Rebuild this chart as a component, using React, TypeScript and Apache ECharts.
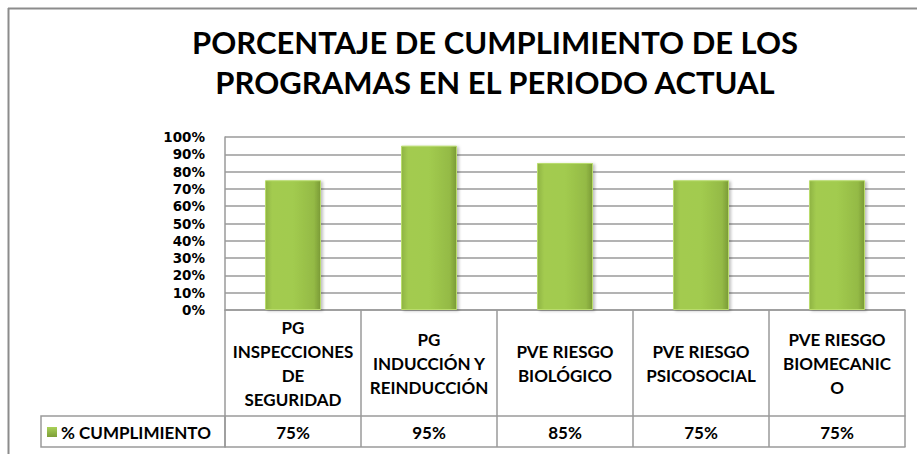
import React, { useEffect, useRef } from "react";
import * as echarts from "echarts";

const TITLE = "PORCENTAJE DE CUMPLIMIENTO DE LOS\nPROGRAMAS EN EL PERIODO ACTUAL";
const SERIES_NAME = "% CUMPLIMIENTO";
const CATEGORIES = [
  "PG\nINSPECCIONES\nDE\nSEGURIDAD",
  "PG\nINDUCCIÓN Y\nREINDUCCIÓN",
  "PVE RIESGO\nBIOLÓGICO",
  "PVE RIESGO\nPSICOSOCIAL",
  "PVE RIESGO\nBIOMECANIC\nO",
];
const VALUES = [0.75, 0.95, 0.85, 0.75, 0.75];
const Y_MIN = 0;
const Y_MAX = 1;
const Y_STEP = 0.1;

const FONT = "Lato, 'Open Sans', sans-serif";
const pct = (v: number) => `${Math.round(v * 100)}%`;

export default function App() {
  const ref = useRef<HTMLDivElement>(null);
  useEffect(() => {
    if (!ref.current) return;
    const chart = echarts.init(ref.current, undefined, { renderer: "svg" });
    const lineColor = "#9a9a9a";
    const barColor = new echarts.graphic.LinearGradient(0, 0, 1, 0, [
      { offset: 0, color: "#8fb443" },
      { offset: 0.12, color: "#a3cb50" },
      { offset: 0.5, color: "#a2cb4f" },
      { offset: 0.88, color: "#94ba45" },
      { offset: 1, color: "#7a9a37" },
    ]);
    chart.setOption({
      animation: false,
      backgroundColor: "#ffffff",
      title: {
        text: TITLE,
        left: 490,
        textAlign: "center",
        top: 17,
        textStyle: {
          fontFamily: FONT,
          fontWeight: "bold",
          fontSize: 31,
          lineHeight: 40,
          color: "#000",
        },
      },
      grid: { left: 225, right: 12, top: 137, bottom: 144, containLabel: false },
      yAxis: {
        type: "value",
        min: Y_MIN,
        max: Y_MAX,
        interval: Y_STEP,
        axisLine: { show: true, lineStyle: { color: lineColor, width: 1.5 } },
        axisTick: { show: false },
        splitLine: { lineStyle: { color: lineColor, width: 1.5 } },
        axisLabel: {
          formatter: (v: number) => pct(v),
          fontFamily: "'DejaVu Sans', sans-serif",
          fontWeight: "bold",
          fontSize: 13.5,
          lineHeight: 14,
          color: "#000",
          margin: 20,
        },
      },
      xAxis: [
        {
          type: "category",
          data: CATEGORIES,
          position: "bottom",
          axisLine: { show: true, lineStyle: { color: lineColor, width: 1.5 } },
          axisTick: {
            show: true,
            interval: 0,
            length: 137,
            lineStyle: { color: lineColor, width: 1.5 },
          },
          axisLabel: {
            interval: 0,
            margin: 53,
            verticalAlign: "middle",
            lineHeight: 24,
            fontFamily: FONT,
            fontWeight: "bold",
            fontSize: 17,
            color: "#000",
          },
        },
        {
          type: "category",
          data: CATEGORIES,
          position: "bottom",
          offset: 106,
          axisLine: { show: true, lineStyle: { color: lineColor, width: 1.5 } },
          axisTick: { show: false },
          axisLabel: {
            interval: 0,
            margin: 16,
            verticalAlign: "middle",
            formatter: (_v: string, i: number) => pct(VALUES[i]),
            fontFamily: FONT,
            fontWeight: "bold",
            fontSize: 17,
            color: "#000",
          },
        },
        {
          type: "category",
          data: CATEGORIES,
          position: "bottom",
          offset: 137,
          axisLine: { show: true, lineStyle: { color: lineColor, width: 1.5 } },
          axisTick: { show: false },
          axisLabel: { show: false },
        },
      ],
      series: [
        {
          name: SERIES_NAME,
          type: "bar",
          xAxisIndex: 0,
          data: VALUES,
          barWidth: 56,
          itemStyle: {
            color: barColor,
            borderColor: "#b9dc6c",
            borderWidth: 1,
            shadowColor: "rgba(0,0,0,0.25)",
            shadowBlur: 3,
            shadowOffsetX: 2,
            shadowOffsetY: 1,
          },
        },
      ],
      graphic: [
        {
          type: "line",
          shape: { x1: 8, y1: 8.5, x2: 917, y2: 8.5 },
          style: { stroke: "#8c8c8c", lineWidth: 2 },
        },
        {
          type: "line",
          shape: { x1: 8.5, y1: 8, x2: 8.5, y2: 454 },
          style: { stroke: "#8c8c8c", lineWidth: 2 },
        },
        {
          type: "rect",
          shape: { x: 41, y: 416, width: 184, height: 31 },
          style: { fill: "none", stroke: lineColor, lineWidth: 1.5 },
        },
        {
          type: "rect",
          shape: { x: 47, y: 427, width: 10, height: 10 },
          style: {
            fill: new echarts.graphic.LinearGradient(0, 0, 0, 1, [
              { offset: 0, color: "#a9d158" },
              { offset: 1, color: "#7d9e38" },
            ]),
          },
        },
        {
          type: "text",
          x: 61,
          y: 432,
          style: {
            text: SERIES_NAME,
            fontFamily: FONT,
            fontWeight: "bold",
            fontSize: 17,
            fill: "#000",
            verticalAlign: "middle",
            align: "left",
          },
        },
      ],
    });
    return () => chart.dispose();
  }, []);
  return (
    <div
      ref={ref}
      style={{ position: "fixed", left: 0, top: 0, width: 917, height: 454 }}
    />
  );
}
